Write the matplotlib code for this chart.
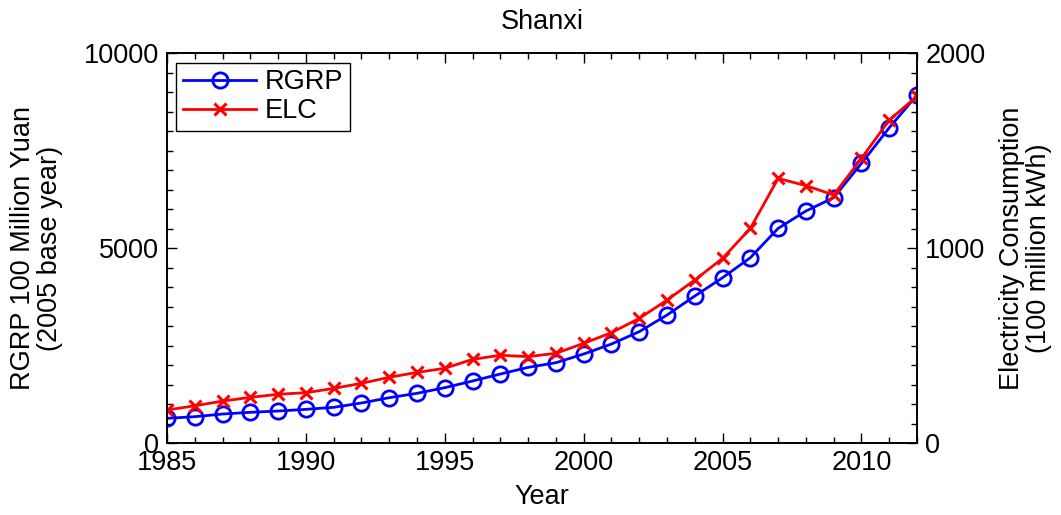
import matplotlib
matplotlib.use('Agg')
import matplotlib.pyplot as plt
import numpy as np
from matplotlib.ticker import MultipleLocator

plt.rcParams['font.family'] = ['Liberation Sans', 'DejaVu Sans']

# Data
years = np.arange(1985, 2013)
rgrp = [633, 675, 743, 787, 820, 863, 915, 1026, 1162, 1274, 1419, 1590, 1769, 1940,
        2059, 2282, 2538, 2855, 3282, 3769, 4239, 4752, 5504, 5949, 6291, 7171, 8085, 8923]
elc = [169, 191, 215, 234, 250, 258, 280, 306, 337, 362, 383, 429, 450, 443,
       460, 511, 566, 639, 733, 836, 947, 1101, 1357, 1320, 1272, 1460, 1656, 1779]

fs = 19.5

fig = plt.figure(figsize=(10.61, 5.15), dpi=100)
ax = fig.add_axes([0.1574, 0.1398, 0.7069, 0.7572])
ax2 = ax.twinx()

l1, = ax.plot(years, rgrp, color='#0000ff', lw=2, marker='o', ms=11,
              mfc='none', mec='#0000ff', mew=2, label='RGRP')
l2, = ax2.plot(years, elc, color='#ff0000', lw=2, marker='x', ms=8,
               mew=2.2, label='ELC')

ax.set_xlim(1985, 2012)
ax.set_ylim(0, 10000)
ax2.set_ylim(0, 2000)

ax.set_xticks([1985, 1990, 1995, 2000, 2005, 2010])
ax.xaxis.set_minor_locator(MultipleLocator(1))
ax.set_yticks([0, 5000, 10000])
ax.yaxis.set_minor_locator(MultipleLocator(500))
ax2.set_yticks([0, 1000, 2000])
ax2.yaxis.set_minor_locator(MultipleLocator(100))

ax.tick_params(axis='x', which='both', direction='in', top=True, labelsize=fs, pad=5)
ax.tick_params(axis='y', which='both', direction='in', labelsize=fs, pad=6)
ax2.tick_params(axis='y', which='both', direction='in', labelsize=fs, pad=6)
for a in (ax, ax2):
    a.tick_params(which='major', length=7, width=1)
    a.tick_params(which='minor', length=4, width=1)
    for s in a.spines.values():
        s.set_linewidth(1.2)

ax.set_xlabel('Year', fontsize=fs, labelpad=6)
ax.set_ylabel('RGRP 100 Million Yuan\n(2005 base year)', fontsize=fs, labelpad=15,
              linespacing=1.05)
ax2.set_ylabel('Electricity Consumption\n(100 million kWh)', fontsize=fs, labelpad=10,
               linespacing=1.05)
ax.set_title('Shanxi', fontsize=fs, pad=17)

leg = ax.legend([l1, l2], ['RGRP', 'ELC'], loc='upper left', fontsize=fs,
                fancybox=False, edgecolor='black', framealpha=1,
                handlelength=2.7, handletextpad=0.3, borderaxespad=0.35,
                labelspacing=0.1, borderpad=0.25)
leg.get_frame().set_linewidth(1)

fig.savefig('out.png', dpi=100)
